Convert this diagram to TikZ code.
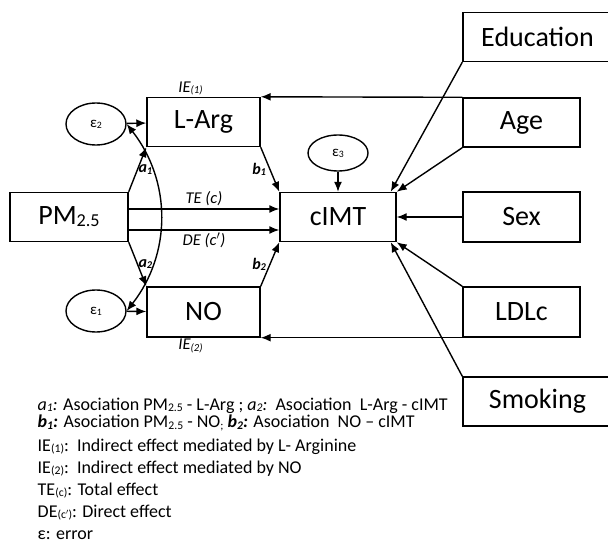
\documentclass[tikz,border=0pt]{standalone}
\usepackage{fontspec}
\setmainfont{Carlito}
\usepackage{graphicx}
\usetikzlibrary{arrows.meta,shapes.geometric}
\newcommand{\lo}[1]{\raisebox{-0.15ex}{\scalebox{0.65}{#1}}}
\begin{document}
\begin{tikzpicture}[x=1pt, y=-1pt, line width=1.4pt, >={Latex[length=10pt,width=8pt]},
	box/.style={draw, minimum width=117pt, minimum height=49pt, inner sep=0pt, font=\fontsize{28}{30}\selectfont},
	err/.style={draw, ellipse, minimum width=60pt, minimum height=42pt, inner sep=0pt, font=\fontsize{15}{16}\selectfont},
	coef/.style={font=\bfseries\itshape\fontsize{16}{18}\selectfont},
	eff/.style={font=\itshape\fontsize{16.5}{18}\selectfont},
	leg/.style={anchor=base west, inner sep=0pt, font=\fontsize{18}{20}\selectfont}]
		\useasboundingbox (0,0) rectangle (608,545);
		
		\node[box, minimum width=118pt] (pm) at (69,217) {PM\lo{2.5}};
		\node[box, minimum width=113pt] (larg) at (203.5,122) {L-Arg};
		\node[box, minimum width=113pt, minimum height=50pt] (no) at (203.5,312) {NO};
		\node[box, minimum width=116pt] (cimt) at (338,217) {cIMT};
		\node[err] (e2) at (96,124) {ε\lo{2}};
		\node[err] (e1) at (96,311) {ε\lo{1}};
		\node[err, minimum height=36pt] (e3) at (338,153) {ε\lo{3}};
		
		\node[box, minimum width=149pt] (edu) at (537.5,37) {Education};
		\node[box] (age) at (521.5,122.5) {Age};
		\node[box, minimum height=50pt] (sex) at (521.5,217) {Sex};
		\node[box, minimum height=50pt] (ldl) at (521.5,312) {LDLc};
		\node[box, minimum width=149pt] (smk) at (537.5,401.5) {Smoking};
		
		\draw[->] (pm.north east) to node[coef, pos=0.5, right=-3pt] {a\lo{1}} (larg.south west);
		\draw[->] (pm.south east) to node[coef, pos=0.5, right=-3pt] {a\lo{2}} (no.north west);
		\draw[->] ([yshift=8pt]pm.east) to node[eff, above=-1pt] {TE (c)} ([yshift=8pt]cimt.west);
		\draw[->] ([yshift=-13pt]pm.east) to node[eff, below=-1pt] {DE (c$'$)} ([yshift=-13pt]cimt.west);
		\draw[->] (larg.south east) to node[coef, pos=0.5, left=0pt] {b\lo{1}} (cimt.north west);
		\draw[->] (no.north east) to node[coef, pos=0.5, left=0pt] {b\lo{2}} (cimt.south west);
		\draw[->] (age.north west) to (larg.north east);
		\draw[->] (ldl.south west) to (no.south east);
		\node[eff, anchor=south, xshift=-13pt, inner sep=1pt] (ie1) at (larg.north) {IE\lo{(1)}};
		\node[eff, anchor=north, xshift=-13pt, inner sep=1pt] (ie2) at (no.south) {IE\lo{(2)}};
		
		\draw[->] (e2) to (larg);
		\draw[->] (e1) to (no);
		\draw[<->] (e2.east) to[bend left=38] (e1.east);
		\draw[->] (e3) to (cimt);
		
		\draw[->] (edu.south west) to ([xshift=-6pt]cimt.north east);
		\draw[->] (age.south west) to (cimt.north east);
		\draw[->] (sex) to (cimt);
		\draw[->] (ldl.north west) to (cimt.south east);
		\draw[->] (smk.north west) to ([xshift=-6pt]cimt.south east);
		
		\node[leg] (leg1) at (37,410) {\textit{a\lo{1}:} Asociation PM\lo{2.5} - L-Arg ; \textit{a\lo{2}:}\ \ Asociation\ \ L-Arg - cIMT};
		\node[leg] (leg2) at (37,428) {\textbf{\textit{b\lo{1}:}} Asociation PM\lo{2.5} - NO\lo{;} \textbf{\textit{b\lo{2}:}} Asociation\ \ NO -- cIMT};
		\node[leg] (leg3) at (37,451) {IE\lo{(1)}:\ \ Indirect effect mediated by L- Arginine};
		\node[leg] (leg4) at (37,473) {IE\lo{(2)}:\ \ Indirect effect mediated by NO};
		\node[leg] (leg5) at (37,495) {TE\lo{(c)}: Total effect};
		\node[leg] (leg6) at (37,517) {DE\lo{(c$'$)}: Direct effect};
		\node[leg] (leg7) at (37,539) {ε: error};
		
	\end{tikzpicture}
\end{document}
